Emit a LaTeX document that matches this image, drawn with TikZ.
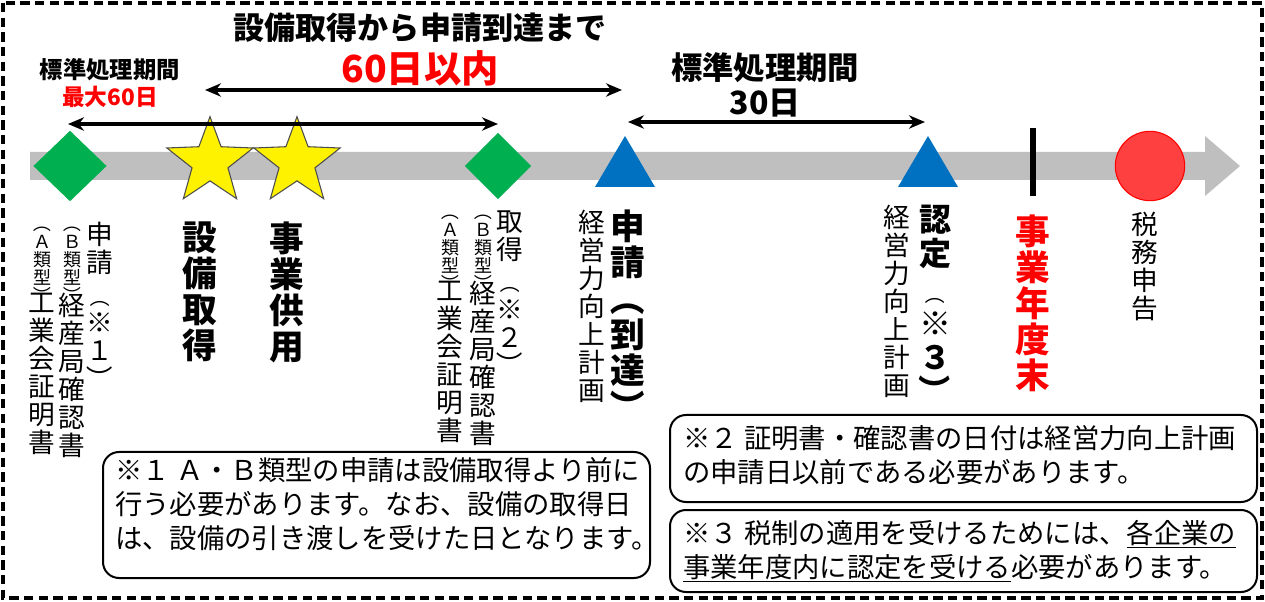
\documentclass[tikz,border=0pt]{standalone}
\usepackage{graphicx}
\usepackage{fontspec}
\setmainfont{Noto Sans CJK JP}
\usetikzlibrary{shapes.geometric,arrows.meta}
\definecolor{gbar}{HTML}{BFBFBF}
\definecolor{grn}{HTML}{00B050}
\definecolor{blu}{HTML}{0070C0}
\definecolor{rd}{HTML}{FF0000}
\newcommand\vpo{\rotatebox[origin=c]{-90}{（}}
\newcommand\vpc{\rotatebox[origin=c]{-90}{）}}
\newcommand\smv{\fontsize{15}{16}\selectfont}
\begin{document}
\begin{tikzpicture}[x=0.75pt,y=-0.75pt,
  vt/.style={anchor=north,align=center,inner sep=0pt,font=\fontsize{20}{21}\selectfont},
  vtb/.style={anchor=north,align=center,inner sep=0pt,font=\fontsize{26}{27}\selectfont\bfseries},
  vts/.style={anchor=north,align=center,inner sep=0pt,font=\fontsize{13.5}{13.5}\selectfont},
  dbl/.style={{Stealth[length=12pt,width=10pt]}-{Stealth[length=12pt,width=10pt]},line width=2.8pt},
  note/.style={draw,line width=1.5pt,rounded corners=12pt},
  ntext/.style={anchor=north west,align=left,inner sep=0pt,font=\fontsize{20.5}{25.5}\selectfont}]
\useasboundingbox (0,0) rectangle (1265,602);
\draw[line width=2.4pt,dash pattern=on 7pt off 4pt] (3,3) rectangle (1262,598);
% bar
\fill[gbar] (30,152) -- (1205,152) -- (1205,136) -- (1240,166) -- (1205,196) -- (1205,180) -- (30,180) -- cycle;
% markers
\node[diamond,fill=grn,minimum width=55pt,minimum height=53pt,inner sep=0] (d1) at (70,166) {};
\node[diamond,fill=grn,minimum width=50pt,minimum height=50pt,inner sep=0] (d2) at (498,166) {};
\node[star,star points=5,star point ratio=2.4,fill=yellow,draw=black!70,line width=0.8pt,minimum size=68pt,inner sep=0] (s1) at (210,162) {};
\node[star,star points=5,star point ratio=2.4,fill=yellow,draw=black!70,line width=0.8pt,minimum size=68pt,inner sep=0] (s2) at (297,162) {};
\fill[blu] (595,187) -- (625,136) -- (655,187) -- cycle;
\fill[blu] (898,187) -- (928,136) -- (958,187) -- cycle;
\fill (1030,128) rectangle (1036,196);
\node[circle,fill=rd!75,draw=rd,line width=0.8pt,minimum size=52pt] (c1) at (1150,166) {};
% top texts and arrows
\node[font=\fontsize{23.3}{26}\selectfont\bfseries] (t1) at (420,28) {設備取得から申請到達まで};
\node[font=\fontsize{28}{30}\selectfont\bfseries,text=rd] (t2) at (420,68) {60日以内};
\node[font=\fontsize{17.5}{20}\selectfont\bfseries] (t3) at (110,70) {標準処理期間};
\node[font=\fontsize{17}{20}\selectfont\bfseries,text=rd] (t4) at (110,97) {最大60日};
\node[font=\fontsize{23.5}{26}\selectfont\bfseries] (t5) at (765,68) {標準処理期間};
\node[font=\fontsize{24}{26}\selectfont\bfseries] (t6) at (765,103) {30日};
\coordinate (a1) at (205,90); \coordinate (a2) at (622,90);
\draw[dbl] (a1) -- (a2);
\coordinate (b1) at (68,124); \coordinate (b2) at (498,124);
\draw[dbl] (b1) -- (b2);
\coordinate (e1) at (628,122); \coordinate (e2) at (925,122);
\draw[dbl] (e1) -- (e2);
% vertical texts left group
\node[vt] (v1) at (100,222) {申\\請\\[3pt]\smv\vpo\\※\\１\\\vpc};
\node[vts] (v2b) at (72,214) {\vpo\\Ｂ\\類\\型\\\vpc};
\node[vt] (v2) at (72,293) {経\\産\\局\\確\\認\\書};
\node[vts] (v3b) at (42,214) {\vpo\\Ａ\\類\\型\\\vpc};
\node[vt] (v3) at (42,293) {工\\業\\会\\証\\明\\書};
\node[vtb] (v4) at (200,222) {設\\備\\取\\得};
\node[vtb] (v5) at (287,222) {事\\業\\供\\用};
% middle group
\node[vt] (m1) at (510,210) {取\\得\\[3pt]\smv\vpo\\※\\２\\\vpc};
\node[vts] (m2b) at (483,202) {\vpo\\Ｂ\\類\\型\\\vpc};
\node[vt] (m2) at (483,281) {経\\産\\局\\確\\認\\書};
\node[vts] (m3b) at (450,202) {\vpo\\Ａ\\類\\型\\\vpc};
\node[vt] (m3) at (450,281) {工\\業\\会\\証\\明\\書};
\node[vtb] (m4) at (628,210) {申\\請\\\vpo\\到\\達\\\vpc};
\node[vt] (m5) at (592,210) {経\\営\\力\\向\\上\\計\\画};
\node[vtb,font=\fontsize{24}{25}\selectfont\bfseries] (r1) at (935,205) {認\\定\\[3pt]\mdseries\smv\vpo\\※\\３\\\vpc};
\node[vt] (r2) at (897,205) {経\\営\\力\\向\\上\\計\\画};
\node[vtb,text=rd] (r3) at (1033,215) {事\\業\\年\\度\\末};
\node[vt] (r4) at (1145,212) {税\\務\\申\\告};
% notes
\draw[note] (103,452) rectangle (650,578);
\node[ntext] (n1) at (115,457) {※１ Ａ・Ｂ類型の申請は設備取得より前に\\行う必要があります。なお、設備の取得日\\は、設備の引き渡しを受けた日となります。};
\draw[note] (670,415) rectangle (1257,502);
\node[ntext] (n2) at (683,425) {※２ 証明書・確認書の日付は経営力向上計画\\の申請日以前である必要があります。};
\draw[note] (670,510) rectangle (1257,592);
\node[ntext] (n3) at (683,520) {※３ 税制の適用を受けるためには、\underline{各企業の}\\\underline{事業年度内に認定を受ける}必要があります。};
\end{tikzpicture}
\end{document}
